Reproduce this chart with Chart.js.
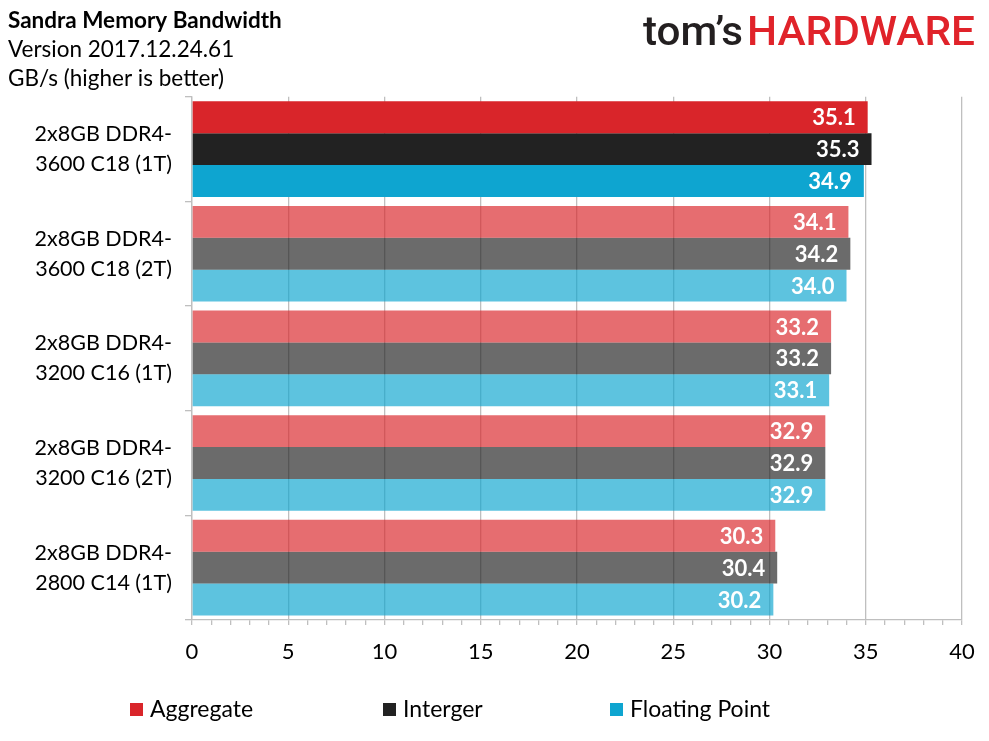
<!DOCTYPE html>
<html>
<head>
<meta charset="utf-8">
<script src="https://cdn.jsdelivr.net/npm/chart.js@4.4.1/dist/chart.umd.min.js"></script>
<style>
html, body { margin: 0; padding: 0; background: #fff; }
#wrap { width: 989px; height: 741px; }
</style>
</head>
<body>
<div id="wrap"><canvas id="myChart" width="989" height="741"></canvas></div>
<script>
// values (GB/s)
const categories = [
    ['2x8GB DDR4-', '3600 C18 (1T)'],
    ['2x8GB DDR4-', '3600 C18 (2T)'],
    ['2x8GB DDR4-', '3200 C16 (1T)'],
    ['2x8GB DDR4-', '3200 C16 (2T)'],
    ['2x8GB DDR4-', '2800 C14 (1T)']
]
const aggregate = [35.1, 34.1, 33.2, 32.9, 30.3]
const integer = [35.3, 34.2, 33.2, 32.9, 30.4]
const floatingPoint = [34.9, 34.0, 33.1, 32.9, 30.2]
const seriesNames = ['Aggregate', 'Interger', 'Floating Point']
const xTicks = [0, 5, 10, 15, 20, 25, 30, 35, 40]

const FONT = 'Lato'
const solid = ['#D9252A', '#222222', '#0EA5D0']
const light = ['rgba(217,37,42,0.67)', 'rgba(34,34,34,0.67)', 'rgba(14,165,208,0.67)']

// first row is the highlighted config, the rest are faded
const rowColors = (i) => categories.map((_, j) => j === 0 ? solid[i] : light[i])

const valueLabels = {
    id: 'valueLabels',
    afterDatasetsDraw(chart) {
        const ctx = chart.ctx
        ctx.save()
        ctx.font = `bold 22px ${FONT}`
        ctx.fillStyle = '#fff'
        ctx.textAlign = 'right'
        ctx.textBaseline = 'middle'
        chart.data.datasets.forEach((ds, i) => {
            chart.getDatasetMeta(i).data.forEach((bar, j) => {
                ctx.fillText(ds.data[j].toFixed(1), bar.x - 12, bar.y + 1)
            })
        })
        ctx.restore()
    }
}

// legend drawn by hand so the spacing matches the original
const legendRow = {
    id: 'legendRow',
    afterDraw(chart) {
        const ctx = chart.ctx
        const xs = [130, 383, 610]
        ctx.save()
        ctx.font = `23px ${FONT}`
        ctx.textBaseline = 'middle'
        ctx.textAlign = 'left'
        chart.data.datasets.forEach((ds, i) => {
            ctx.fillStyle = solid[i]
            ctx.fillRect(xs[i], 703, 13, 13)
            ctx.fillStyle = '#000'
            ctx.fillText(ds.label, xs[i] + 20, 710)
        })
        ctx.restore()
    }
}

const logo = {
    id: 'logo',
    afterDraw(chart) {
        const ctx = chart.ctx
        const put = (text, color, x, w) => {
            ctx.fillStyle = color
            const m = ctx.measureText(text).width
            ctx.save()
            ctx.translate(x, 45)
            ctx.scale(w / m, 1)
            ctx.fillText(text, 0, 0)
            ctx.restore()
        }
        ctx.save()
        ctx.textBaseline = 'alphabetic'
        ctx.textAlign = 'left'
        ctx.font = `500 40px Roboto`
        put('tom\u2019s', '#231F20', 643, 100)
        put('HARDWARE', '#E0232A', 747, 228)
        ctx.restore()
    }
}

const chart = new Chart('myChart', {
    type: 'bar',
    data: {
        labels: categories,
        datasets: [
            { label: seriesNames[0], data: aggregate, backgroundColor: rowColors(0) },
            { label: seriesNames[1], data: integer, backgroundColor: rowColors(1) },
            { label: seriesNames[2], data: floatingPoint, backgroundColor: rowColors(2) }
        ]
    },
    options: {
        indexAxis: 'y',
        responsive: false,
        animation: false,
        categoryPercentage: 0.914,
        barPercentage: 1,
        layout: { padding: { left: 8, right: 27, top: 0, bottom: 71 } },
        scales: {
            x: {
                min: 0,
                max: 40,
                afterFit: (scale) => { scale.height = 50 },
                ticks: {
                    stepSize: 1,
                    autoSkip: false,
                    maxRotation: 0,
                    padding: 14,
                    color: '#000',
                    font: { family: FONT, size: 22 },
                    callback: (v) => xTicks.includes(v) ? v : ''
                },
                grid: {
                    color: (c) => c.tick && c.tick.value % 5 === 0 ? '#BFBFBF' : 'rgba(0,0,0,0)',
                    tickColor: '#BFBFBF',
                    tickLength: 5,
                    lineWidth: 1.3
                },
                border: { color: '#BFBFBF', width: 1.3 }
            },
            y: {
                afterFit: (scale) => { scale.width = 184 },
                ticks: {
                    padding: 13,
                    color: '#000',
                    font: { family: FONT, size: 21.5, lineHeight: 1.4 }
                },
                grid: {
                    offset: true,
                    drawOnChartArea: false,
                    color: '#BFBFBF',
                    tickLength: 7,
                    lineWidth: 1.3
                },
                border: { color: '#BFBFBF', width: 1.3 }
            }
        },
        plugins: {
            legend: { display: false },
            tooltip: { enabled: false },
            title: {
                display: true,
                text: 'Sandra Memory Bandwidth',
                align: 'start',
                color: '#000',
                font: { family: FONT, size: 22.5, weight: 'bold', lineHeight: 1.3 },
                padding: { top: 6, bottom: 0 }
            },
            subtitle: {
                display: true,
                text: ['Version 2017.12.24.61', 'GB/s (higher is better)'],
                align: 'start',
                color: '#000',
                font: { family: FONT, size: 22.5, weight: 'normal', lineHeight: 1.3 },
                padding: { top: 0, bottom: 3 }
            }
        }
    },
    plugins: [valueLabels, legendRow, logo]
})
</script>
</body>
</html>
